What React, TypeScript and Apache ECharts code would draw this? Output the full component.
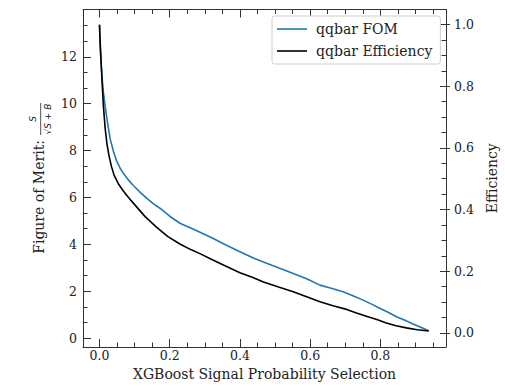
import React, { useEffect, useRef } from "react";
import * as echarts from "echarts";

// XGBoost signal probability cut values and the two curves
const fomCut = [0.0, 0.002, 0.005, 0.008, 0.011, 0.016, 0.021, 0.03, 0.04, 0.049, 0.058, 0.068, 0.082, 0.097, 0.116, 0.135, 0.153, 0.173, 0.2, 0.229, 0.268, 0.3, 0.324, 0.36, 0.4, 0.44, 0.476, 0.515, 0.552, 0.59, 0.628, 0.66, 0.694, 0.72, 0.751, 0.775, 0.798, 0.822, 0.846, 0.87, 0.893, 0.915, 0.938];
const fomValues = [13.36, 12.4, 11.65, 11.0, 10.5, 9.9, 9.37, 8.52, 7.95, 7.55, 7.27, 7.03, 6.75, 6.5, 6.22, 5.96, 5.74, 5.53, 5.2, 4.9, 4.64, 4.42, 4.25, 3.97, 3.68, 3.41, 3.19, 2.97, 2.76, 2.53, 2.26, 2.13, 1.98, 1.82, 1.62, 1.45, 1.27, 1.1, 0.91, 0.76, 0.6, 0.46, 0.31];

const effCut = [0.0, 0.002, 0.005, 0.008, 0.011, 0.016, 0.021, 0.027, 0.034, 0.042, 0.054, 0.068, 0.082, 0.097, 0.11, 0.13, 0.163, 0.195, 0.229, 0.26, 0.286, 0.32, 0.353, 0.4, 0.435, 0.467, 0.51, 0.552, 0.59, 0.628, 0.665, 0.704, 0.73, 0.76, 0.79, 0.817, 0.845, 0.874, 0.905, 0.938];
const effValues = [1.0, 0.94, 0.868, 0.8, 0.738, 0.665, 0.615, 0.575, 0.54, 0.51, 0.483, 0.46, 0.44, 0.42, 0.403, 0.377, 0.342, 0.312, 0.288, 0.27, 0.257, 0.238, 0.22, 0.195, 0.18, 0.165, 0.149, 0.133, 0.117, 0.101, 0.088, 0.076, 0.065, 0.054, 0.043, 0.032, 0.023, 0.016, 0.01, 0.006];

const xMajorTicks = [0, 0.2, 0.4, 0.6, 0.8];
const xMinorTicks = [0, 0.05, 0.1, 0.15, 0.2, 0.25, 0.3, 0.35, 0.4, 0.45, 0.5, 0.55, 0.6, 0.65, 0.7, 0.75, 0.8, 0.85, 0.9, 0.95];
const fomMajorTicks = [0, 2, 4, 6, 8, 10, 12];
const fomMinorTicks = [0, 0.6667, 1.3333, 2, 2.6667, 3.3333, 4, 4.6667, 5.3333, 6, 6.6667, 7.3333, 8, 8.6667, 9.3333, 10, 10.6667, 11.3333, 12, 12.6667, 13.3333];
const effMajorTicks = [0, 0.2, 0.4, 0.6, 0.8, 1.0];
const effMinorTicks = [0, 0.05, 0.1, 0.15, 0.2, 0.25, 0.3, 0.35, 0.4, 0.45, 0.5, 0.55, 0.6, 0.65, 0.7, 0.75, 0.8, 0.85, 0.9, 0.95, 1.0];

const seriesNames = ["qqbar FOM", "qqbar Efficiency"];

const FONT = '"DejaVu Serif", serif';
const TXT = "#222";
const AX = "#333";

export default function App() {
  const ref = useRef<HTMLDivElement>(null);
  useEffect(() => {
    if (!ref.current) return;
    const chart = echarts.init(ref.current, null, { renderer: "svg" });
    const xr = { type: "value", min: -0.047, max: 0.987, splitLine: { show: false } };
    const yl = { type: "value", min: -0.38, max: 14.02, splitLine: { show: false } };
    const yr = { type: "value", min: -0.046, max: 1.049, splitLine: { show: false } };
    const noLabel = { show: false };
    const line = { show: true, onZero: false, lineStyle: { color: AX, width: 1 } };
    const noLine = { show: false, onZero: false };
    const tick = (len: number, inside: boolean, vals: number[]) => ({
      show: true, inside, length: len, customValues: vals, lineStyle: { color: AX, width: 1 },
    });
    const option: any = {
      animation: false,
      backgroundColor: "#fff",
      grid: { left: 83, right: 59, top: 9.5, bottom: 39, outerBoundsMode: "none", containLabel: false },
      xAxis: [
        {
          ...xr, position: "bottom", axisLine: line,
          axisTick: tick(8, true, xMajorTicks),
          axisLabel: { customValues: xMajorTicks, formatter: (v: number) => v.toFixed(1), fontFamily: FONT, fontSize: 12.5, color: TXT, margin: 2 },
          name: "XGBoost Signal Probability Selection", nameLocation: "middle", nameGap: 20,
          nameTextStyle: { fontFamily: FONT, fontSize: 14, color: TXT },
        },
        { ...xr, position: "bottom", axisLine: noLine, axisTick: tick(4.5, true, xMinorTicks), axisLabel: noLabel },
        { ...xr, position: "top", axisLine: line, axisTick: tick(8, true, xMajorTicks), axisLabel: noLabel },
        { ...xr, position: "top", axisLine: noLine, axisTick: tick(4.5, true, xMinorTicks), axisLabel: noLabel },
      ],
      yAxis: [
        {
          ...yl, position: "left", axisLine: line,
          axisTick: tick(8, true, fomMajorTicks),
          axisLabel: { customValues: fomMajorTicks, formatter: (v: number) => String(v), fontFamily: FONT, fontSize: 12.5, color: TXT, margin: 6 },
        },
        { ...yl, position: "left", axisLine: noLine, axisTick: tick(4.5, true, fomMinorTicks), axisLabel: noLabel },
        {
          ...yr, position: "right", axisLine: line,
          axisTick: tick(4, false, effMajorTicks),
          axisLabel: { customValues: effMajorTicks, formatter: (v: number) => v.toFixed(1), fontFamily: FONT, fontSize: 12.5, color: TXT, margin: 8 },
          name: "Efficiency", nameLocation: "middle", nameGap: 33, nameRotate: 90,
          nameTextStyle: { fontFamily: FONT, fontSize: 14, color: TXT },
        },
        { ...yr, position: "right", axisLine: noLine, axisTick: tick(6, true, effMajorTicks), axisLabel: noLabel },
        { ...yr, position: "right", axisLine: noLine, axisTick: tick(4.5, true, effMinorTicks), axisLabel: noLabel },
      ],
      legend: {
        data: seriesNames,
        orient: "vertical",
        left: 272,
        top: 16,
        icon: "rect",
        itemWidth: 30,
        itemHeight: 1.6,
        itemGap: 6,
        padding: [5, 8, 5, 5],
        backgroundColor: "rgba(255,255,255,0.85)",
        borderColor: "#d0d0d0",
        borderWidth: 1,
        borderRadius: 3,
        textStyle: { fontFamily: FONT, fontSize: 14, color: TXT, padding: [0, 0, 0, 4], lineHeight: 16 },
      },
      series: [
        {
          name: seriesNames[0], type: "line", xAxisIndex: 0, yAxisIndex: 0,
          data: fomCut.map((x, i) => [x, fomValues[i]]),
          symbol: "none", smooth: false,
          lineStyle: { color: "#1f77b4", width: 1.6 }, itemStyle: { color: "#1f77b4" }, z: 2,
        },
        {
          name: seriesNames[1], type: "line", xAxisIndex: 0, yAxisIndex: 2,
          data: effCut.map((x, i) => [x, effValues[i]]),
          symbol: "none", smooth: false,
          lineStyle: { color: "#000", width: 1.6 }, itemStyle: { color: "#000" }, z: 3,
        },
      ],
      graphic: [
        {
          type: "group", x: 40, y: 177, rotation: Math.PI / 2,
          children: [
            { type: "text", style: { text: "Figure of Merit:", x: 37, y: -1, align: "right", verticalAlign: "middle", font: `14px ${FONT}`, fill: TXT } },
            { type: "text", style: { text: "S", x: 58, y: -7.5, align: "center", verticalAlign: "middle", font: `italic 9px "DejaVu Sans"`, fill: TXT } },
            { type: "line", shape: { x1: 42, y1: 0.7, x2: 74, y2: 0.7 }, style: { stroke: TXT, lineWidth: 0.8 } },
            { type: "text", style: { text: "√S + B", x: 58, y: 8, align: "center", verticalAlign: "middle", font: `italic 9px "DejaVu Sans"`, fill: TXT } },
          ],
        },
      ],
    };
    chart.setOption(option);
    return () => chart.dispose();
  }, []);
  return <div ref={ref} style={{ position: "fixed", left: 0, top: 0, width: 505, height: 386 }} />;
}
